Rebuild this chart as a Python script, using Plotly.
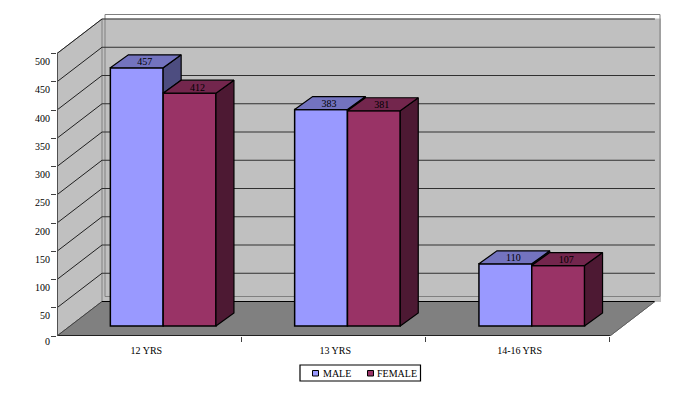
import plotly.graph_objects as go

categories = ["12 YRS", "13 YRS", "14-16 YRS"]
male = [457, 383, 110]
female = [412, 381, 107]
y_ticks = [0, 50, 100, 150, 200, 250, 300, 350, 400, 450, 500]

# The page body has an 8 px margin, so the figure is sized and placed to allow for it.
PAGE = 8
PX_X = 184.3      # px per category
PX_Y = 0.565      # px per value unit
L, R, T, B = 57 - PAGE, 28, 14 - PAGE, 58
W, H = 689 - PAGE, 394 - PAGE
PLOT_W, PLOT_H = W - L - R, H - T - B
X_MAX = PLOT_W / PX_X
Y_MAX = PLOT_H / PX_Y

def ux(px): return px / PX_X
def uy(px): return px / PX_Y
def pap_x(px): return (px - PAGE - L) / PLOT_W
def pap_y(px): return 1 - (px - PAGE - T) / PLOT_H

WALL_DX, WALL_DY = ux(45), uy(34.5)        # depth of the chart box
BAR_OX, BAR_OY = ux(14), uy(10)            # bars stand this far into the box
BAR_DX, BAR_DY = ux(18), uy(13)            # depth of a bar
BAR_W = ux(52.8)

SERIES = [
    ("MALE", male, "#9999FF", "#7373BF", "#4D4D80"),
    ("FEMALE", female, "#993366", "#73264D", "#4D1933"),
]
FONT = dict(family="Liberation Serif", size=10, color="#000000")

shapes = []
def poly(pts, fill, line="#808080", width=1, layer="below"):
    path = "M " + " L ".join(f"{x},{y}" for x, y in pts) + " Z"
    shapes.append(dict(type="path", path=path, fillcolor=fill, layer=layer,
                       line=dict(color=line, width=width), xref="x", yref="y"))
def seg(x0, y0, x1, y1, color, width=1):
    shapes.append(dict(type="line", x0=x0, y0=y0, x1=x1, y1=y1, layer="below",
                       line=dict(color=color, width=width), xref="x", yref="y"))

top = y_ticks[-1]
# back wall and its frame
poly([(WALL_DX, WALL_DY), (X_MAX, WALL_DY), (X_MAX, top + WALL_DY), (WALL_DX, top + WALL_DY)],
     "#C0C0C0", "#C0C0C0")
poly([(WALL_DX + ux(3), WALL_DY + uy(5)), (X_MAX - ux(1), WALL_DY + uy(5)),
      (X_MAX - ux(1), Y_MAX - uy(.5)), (WALL_DX + ux(3), Y_MAX - uy(.5))],
     "rgba(0,0,0,0)", "#808080")
# left wall
poly([(0, 0), (WALL_DX, WALL_DY), (WALL_DX, top + WALL_DY), (0, top)], "#C0C0C0", "#808080")
# floor
poly([(0, 0), (3, 0), (3 + WALL_DX, WALL_DY), (WALL_DX, WALL_DY)], "#808080", "#808080")
seg(WALL_DX, WALL_DY, 3 + WALL_DX, WALL_DY, "#000000")
seg(0, 0, 3, 0, "#000000", 1.5)
seg(3, 0, 3 + WALL_DX, WALL_DY, "#606060")
seg(0, 0, WALL_DX, WALL_DY, "#404040")
# gridlines
for v in y_ticks[1:]:
    seg(0, v, WALL_DX, v + WALL_DY, "#202020")
    seg(WALL_DX, v + WALL_DY, 3 + WALL_DX, v + WALL_DY, "#303030")
seg(0, 0, 0, top, "#505050", 2)

fig = go.Figure()
centers = [i + 0.5 + BAR_OX for i in range(len(categories))]

# front faces
for k, (name, vals, front, _, _) in enumerate(SERIES):
    fig.add_trace(go.Bar(
        x=centers, y=vals, base=BAR_OY, width=BAR_W, offset=-BAR_W if k == 0 else 0,
        name=name, marker=dict(color=front, line=dict(color="#000000", width=1.5)),
        showlegend=False, hoverinfo="y"))

# top and side faces
def face(pts, fill):
    xs, ys = zip(*pts)
    fig.add_trace(go.Scatter(x=list(xs) + [xs[0]], y=list(ys) + [ys[0]], mode="lines",
                             fill="toself", fillcolor=fill,
                             line=dict(color="#000000", width=1.2),
                             showlegend=False, hoverinfo="skip"))

for i, c in enumerate(centers):
    m_top = male[i] + BAR_OY
    f_top = female[i] + BAR_OY
    face([(c, m_top), (c + BAR_DX, m_top + BAR_DY), (c + BAR_DX, f_top + BAR_DY), (c, f_top)], SERIES[0][4])
    face([(c - BAR_W, m_top), (c, m_top), (c + BAR_DX, m_top + BAR_DY), (c - BAR_W + BAR_DX, m_top + BAR_DY)], SERIES[0][3])
    base = BAR_OY
    face([(c + BAR_W, f_top), (c + BAR_W + BAR_DX, f_top + BAR_DY),
          (c + BAR_W + BAR_DX, base + BAR_DY), (c + BAR_W, base)], SERIES[1][4])
    face([(c, f_top), (c + BAR_W, f_top), (c + BAR_W + BAR_DX, f_top + BAR_DY), (c + BAR_DX, f_top + BAR_DY)], SERIES[1][3])

# value labels on top faces
for k, (name, vals, *_ ) in enumerate(SERIES):
    xs = [c + (-BAR_W / 2 if k == 0 else BAR_W / 2) + BAR_DX / 2 - ux(1) for c in centers]
    ys = [v + BAR_OY + BAR_DY / 2 - uy(1.5) for v in vals]
    fig.add_trace(go.Scatter(x=xs, y=ys, mode="text", text=[str(v) for v in vals],
                             textposition="middle center", textfont=FONT,
                             showlegend=False, hoverinfo="skip"))

annotations = [dict(x=0, y=v, xref="x", yref="y", text=str(v), showarrow=False,
                    xanchor="right", xshift=-5, yshift=-5 if v == 0 else -8, font=FONT)
               for v in y_ticks]

# legend, drawn to the reference's compact proportions
def pshape(kind, x0, y0, x1, y1, fill, line, width=1):
    shapes.append(dict(type=kind, xref="paper", yref="paper", x0=pap_x(x0), x1=pap_x(x1),
                       y0=pap_y(y0), y1=pap_y(y1), fillcolor=fill,
                       line=dict(color=line, width=width), layer="above"))
pshape("rect", 300, 365, 420.5, 381, "#FFFFFF", "#000000", 1.2)
for (name, _, front, _, _), sx, tx in zip(SERIES, [312.5, 367.5], [321.5, 376.3]):
    pshape("rect", sx, 370.5, sx + 6, 376, front, "#000000")
    annotations.append(dict(x=pap_x(tx), y=pap_y(373), xref="paper", yref="paper", text=name,
                            showarrow=False, xanchor="left", yanchor="middle", font=FONT,
                            xshift=-1))

fig.update_layout(
    width=W, height=H, autosize=False,
    margin=dict(l=L, r=R, t=T, b=B, pad=0),
    paper_bgcolor="#FFFFFF", plot_bgcolor="rgba(0,0,0,0)",
    shapes=shapes, annotations=annotations, barmode="overlay", font=FONT,
    xaxis=dict(range=[0, X_MAX], showgrid=False, zeroline=False, showline=False,
               tickmode="array", tickvals=[0.485, 1.51, 2.51], ticktext=categories,
               ticks="", ticklen=5, tickfont=FONT, fixedrange=True, ticklabelstandoff=7,
               minor=dict(tickmode="array", tickvals=[1, 2, 3], ticks="outside",
                          ticklen=5, tickcolor="#404040", tickwidth=1, showgrid=False)),
    yaxis=dict(range=[0, Y_MAX], showgrid=False, zeroline=False, showline=False,
               tickmode="array", tickvals=y_ticks, ticks="outside", ticklen=5,
               tickcolor="#404040", showticklabels=False, fixedrange=True),
    showlegend=False,
)
fig.write_html("out.html", config=dict(displayModeBar=False))
